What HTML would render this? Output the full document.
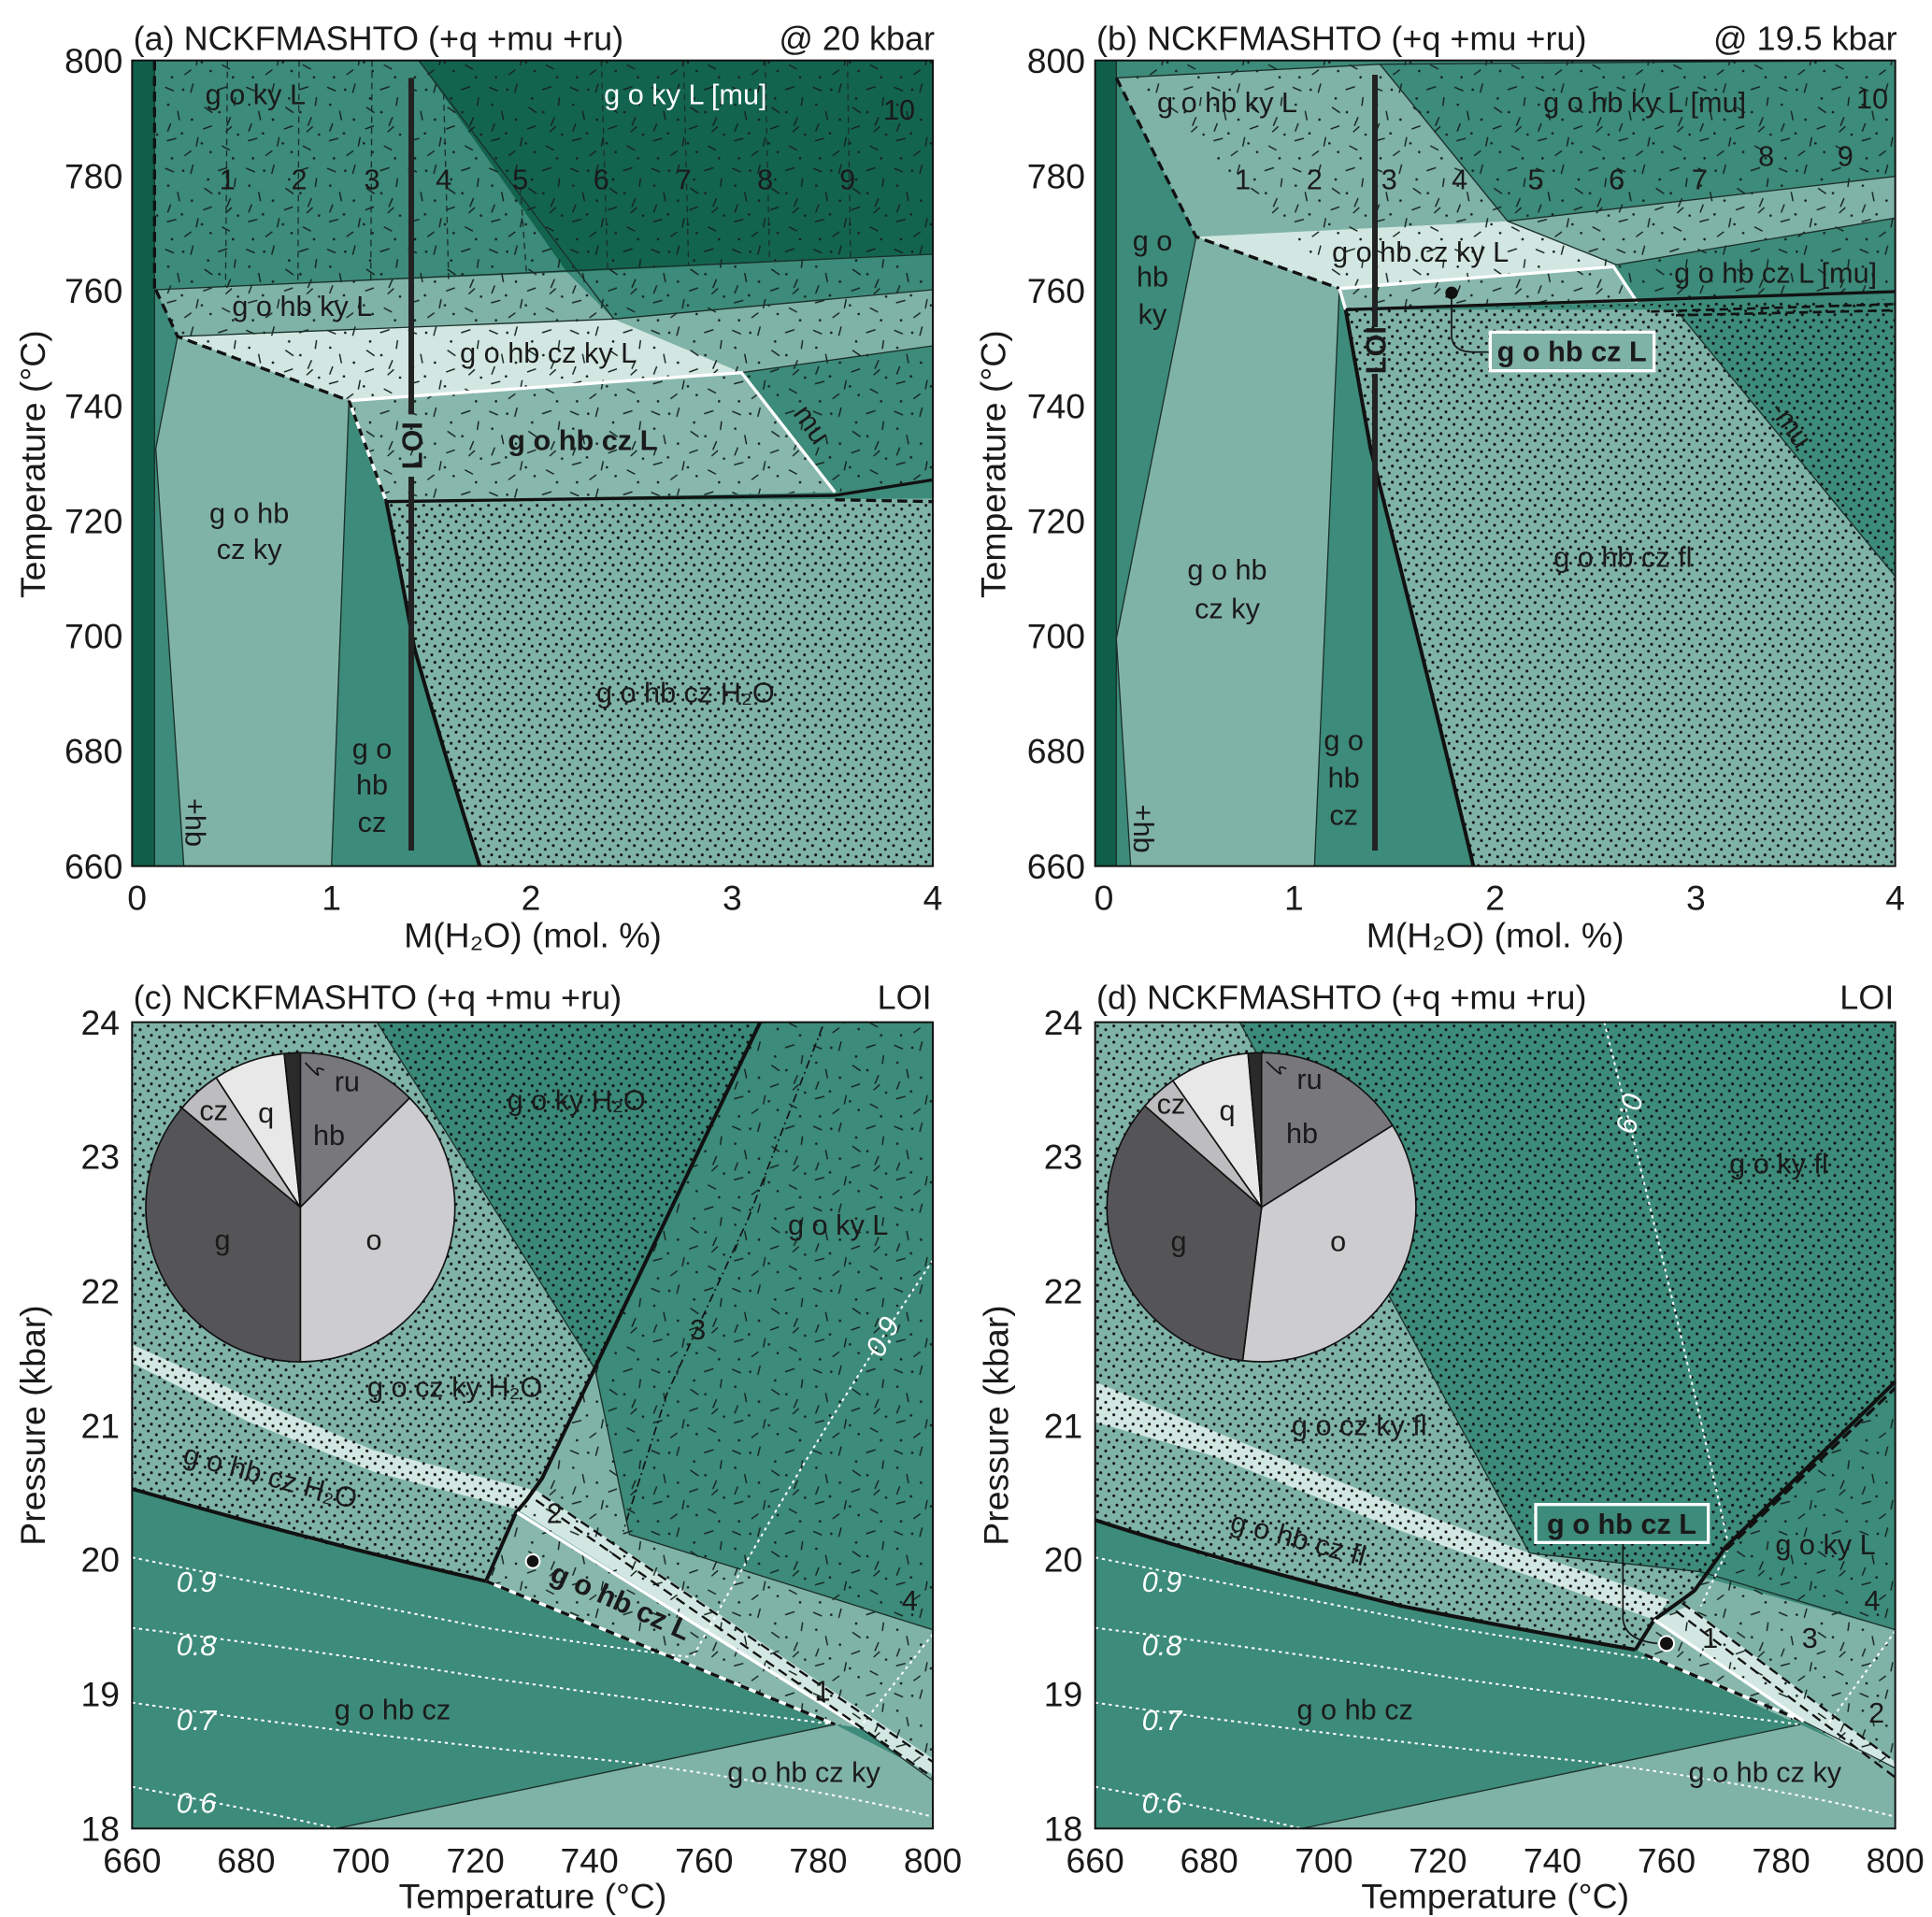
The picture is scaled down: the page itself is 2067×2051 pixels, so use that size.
<!DOCTYPE html>
<html><head><meta charset="utf-8"><style>html,body{margin:0;padding:0;background:#fff}svg{display:block}text{font-family:"Liberation Sans",sans-serif;fill:#1a1a1a}</style></head><body>
<svg width="2067" height="2051" viewBox="0 0 2067 2051" xmlns="http://www.w3.org/2000/svg">
<defs>
<pattern id="dsh" width="130" height="130" patternUnits="userSpaceOnUse">
<g stroke="#15231f" stroke-width="2.2" fill="none">
<path d="M5 10l14 6M50 4l-4 15M90 14l15-5M25 48l3 15M68 42l13 9M110 58l-6 14M8 96l15-4M58 90l-3 15M96 104l13 7M36 120l11-8M118 26l-2 14M80 72l-14 5M14 68l-5 13M102 82l10 -9"/>
</g>
<g fill="#15231f"><circle cx="34" cy="14" r="2"/><circle cx="74" cy="28" r="2"/><circle cx="10" cy="38" r="2"/><circle cx="48" cy="62" r="2"/><circle cx="92" cy="50" r="2"/><circle cx="122" cy="86" r="2"/><circle cx="32" cy="84" r="2"/><circle cx="78" cy="114" r="2"/><circle cx="114" cy="124" r="2"/><circle cx="16" cy="124" r="2"/><circle cx="64" cy="100" r="2"/></g>
</pattern>
<pattern id="dot" width="26" height="26" patternUnits="userSpaceOnUse">
<g fill="#111"><circle cx="4" cy="5" r="2.3"/><circle cx="17" cy="11" r="2.3"/><circle cx="9" cy="20" r="2.3"/><circle cx="22" cy="23" r="2.3"/></g>
</pattern>
</defs>

<!-- ================= PANEL A ================= -->
<g transform="scale(0.66667)">
<rect x="212" y="97" width="1285" height="1293" fill="#3d8b7a"/>
<rect x="212" y="97" width="36" height="1293" fill="#0f5f4b"/>
<polygon points="672,97 1497,97 1497,408 910,437" fill="#13644f"/>
<polygon points="985,512 1497,465 1497,555 1190,598" fill="#80b3a8"/>
<polygon points="250,465 910,437 985,512 285,540" fill="#80b3a8"/>
<polygon points="285,540 985,512 1190,598 560,643" fill="#d2e7e1"/>
<polygon points="560,643 1190,598 1340,790 620,805" fill="#88b8ad"/>
<polygon points="620,805 1497,800 1497,1390 770,1390 700,1150 665,1040" fill="#80b3a8"/>
<polygon points="285,540 560,643 532,1390 295,1390 250,720" fill="#80b3a8"/>
<polygon points="248,97 1497,97 1497,770 1340,790 620,805 560,643 285,540 250,465" fill="url(#dsh)"/>
<polygon points="620,805 1497,805 1497,1390 770,1390 700,1150 665,1040" fill="url(#dot)"/>
<g stroke="#1a2f2a" stroke-width="2" fill="none">
<path d="M672,97 L985,512"/><path d="M250,465 L1497,408"/><path d="M985,512 L1497,465"/><path d="M1190,598 L1497,555"/><path d="M285,540 L985,512"/>
<path d="M285,540 L250,720 L295,1390"/><path d="M560,643 L532,1390"/><path d="M248,97 L248,1390"/>
</g>
<g stroke="#1a2f2a" stroke-width="2" stroke-dasharray="10,8" fill="none">
<path d="M365,97 L362,460"/><path d="M480,97 L478,455"/><path d="M597,97 L595,450"/><path d="M712,150 L720,450"/><path d="M835,300 L845,440"/><path d="M965,97 L975,430"/><path d="M1097,97 L1105,425"/><path d="M1228,97 L1235,420"/><path d="M1360,97 L1365,415"/>
</g>
<path d="M248,97 L248,465" stroke="#111" stroke-width="5" stroke-dasharray="16,9" fill="none"/>
<path d="M250,465 L285,540 L560,643" stroke="#111" stroke-width="5" stroke-dasharray="16,9" fill="none"/>
<path d="M560,643 L1190,598 L1340,790" stroke="#fff" stroke-width="5" fill="none"/>
<path d="M560,643 L620,805" stroke="#fff" stroke-width="5" fill="none"/>
<path d="M560,643 L620,805" stroke="#111" stroke-width="5" stroke-dasharray="12,12" fill="none"/>
<path d="M620,805 L1340,795 L1497,770" stroke="#111" stroke-width="5" fill="none"/>
<path d="M1340,802 L1497,805" stroke="#111" stroke-width="5" stroke-dasharray="16,9" fill="none"/>
<path d="M620,805 Q645,930 665,1040 Q710,1200 770,1390" stroke="#111" stroke-width="6" fill="none"/>
<path d="M660,125 L660,665 M660,765 L660,1365" stroke="#222" stroke-width="9" fill="none"/>
<text transform="translate(677,715) rotate(-90)" text-anchor="middle" font-size="46" font-weight="bold">LOI</text>
<g font-size="46">
<text x="410" y="167" text-anchor="middle">g o ky L</text>
<text x="1100" y="167" text-anchor="middle" style="fill:#fff">g o ky L [mu]</text>
<text x="365" y="304" text-anchor="middle">1</text><text x="480" y="304" text-anchor="middle">2</text><text x="597" y="304" text-anchor="middle">3</text><text x="712" y="304" text-anchor="middle">4</text><text x="835" y="304" text-anchor="middle">5</text><text x="965" y="304" text-anchor="middle">6</text><text x="1097" y="304" text-anchor="middle">7</text><text x="1228" y="304" text-anchor="middle">8</text><text x="1360" y="304" text-anchor="middle">9</text><text x="1443" y="192" text-anchor="middle">10</text>
<text x="485" y="507" text-anchor="middle">g o hb ky L</text>
<text x="880" y="582" text-anchor="middle">g o hb cz ky L</text>
<text x="935" y="722" text-anchor="middle" font-weight="bold">g o hb cz L</text>
<text transform="translate(1290,690) rotate(55)" text-anchor="middle">mu</text>
<text x="400" y="839" text-anchor="middle">g o hb</text><text x="400" y="897" text-anchor="middle">cz ky</text>
<text x="597" y="1217" text-anchor="middle">g o</text><text x="597" y="1275" text-anchor="middle">hb</text><text x="597" y="1335" text-anchor="middle">cz</text>
<text x="1100" y="1127" text-anchor="middle">g o hb cz H₂O</text>
<text transform="translate(298,1320) rotate(90)" text-anchor="middle">+hb</text>
</g>
<rect x="212" y="97" width="1285" height="1293" fill="none" stroke="#111" stroke-width="3"/>
<g font-size="56" text-anchor="end">
<text x="197" y="117">800</text><text x="197" y="302">780</text><text x="197" y="486">760</text><text x="197" y="671">740</text><text x="197" y="856">720</text><text x="197" y="1040">700</text><text x="197" y="1225">680</text><text x="197" y="1410">660</text>
</g>
<g font-size="56" text-anchor="middle">
<text x="220" y="1460">0</text><text x="532" y="1460">1</text><text x="852" y="1460">2</text><text x="1175" y="1460">3</text><text x="1497" y="1460">4</text>
<text x="855" y="1520">M(H₂O) (mol. %)</text>
<text transform="translate(72,745) rotate(-90)">Temperature (°C)</text>
</g>
<text x="214" y="80" font-size="54">(a) NCKFMASHTO (+q +mu +ru)</text>
<text x="1500" y="80" font-size="54" text-anchor="end">@ 20 kbar</text>
</g>

<!-- ================= PANEL B ================= -->
<g transform="translate(1033,0) scale(0.66667)">
<rect x="208" y="97" width="1284" height="1293" fill="#3d8b7a"/>
<rect x="208" y="97" width="34" height="1293" fill="#0f5f4b"/>
<polygon points="242,125 665,103 870,355 370,380" fill="#80b3a8"/>
<polygon points="870,355 1492,283 1492,350 1045,425" fill="#80b3a8"/>
<polygon points="370,380 870,355 1045,425 600,463" fill="#d2e7e1"/>
<polygon points="600,463 1040,428 1078,485 610,497" fill="#88b8ad"/>
<polygon points="610,497 1140,497 1492,925 1492,1390 815,1390 720,1000 650,720" fill="#80b3a8"/>
<polygon points="370,380 600,463 560,1390 265,1390 242,1025" fill="#80b3a8"/>
<polygon points="242,97 1492,97 1492,470 610,497 600,463" fill="url(#dsh)"/>
<polygon points="610,497 1492,480 1492,1390 815,1390 720,1000 650,720" fill="url(#dot)"/>
<g stroke="#1a2f2a" stroke-width="2" fill="none">
<path d="M242,125 L665,103 L870,355 L1045,425"/><path d="M870,355 L1492,283"/><path d="M1045,425 L1492,350"/><path d="M665,103 L1492,97"/>
<path d="M1140,497 L1492,925"/><path d="M370,380 L242,1025 L265,1390"/><path d="M600,463 L560,1390"/><path d="M242,97 L242,1390"/>
</g>
<path d="M242,125 L370,380 L600,463" stroke="#111" stroke-width="5" stroke-dasharray="16,9" fill="none"/>
<path d="M600,463 L1040,428 L1078,485" stroke="#fff" stroke-width="5" fill="none"/>
<path d="M600,463 L610,497" stroke="#fff" stroke-width="5" fill="none"/>
<path d="M1100,500 L1492,488 M1140,506 L1492,498" stroke="#111" stroke-width="4" stroke-dasharray="14,8" fill="none"/>
<path d="M610,497 L1492,468" stroke="#111" stroke-width="5" fill="none"/>
<path d="M610,497 Q630,610 650,720 Q690,880 720,1000 Q770,1200 815,1390" stroke="#111" stroke-width="6" fill="none"/>
<path d="M657,120 L657,525 M657,600 L657,1365" stroke="#222" stroke-width="9" fill="none"/>
<text transform="translate(674,562) rotate(-90)" text-anchor="middle" font-size="46" font-weight="bold">LOI</text>
<circle cx="780" cy="470" r="10" fill="#111"/>
<path d="M780,470 L780,540 Q782,565 815,565 L842,565" stroke="#111" stroke-width="2.5" fill="none"/>
<rect x="842" y="533" width="263" height="62" fill="#80b3a8" stroke="#fff" stroke-width="5"/>
<text x="973" y="580" text-anchor="middle" font-size="46" font-weight="bold">g o hb cz L</text>
<g font-size="46">
<text x="420" y="180" text-anchor="middle">g o hb ky L</text>
<text x="1090" y="180" text-anchor="middle">g o hb ky L [mu]</text>
<text x="445" y="304" text-anchor="middle">1</text><text x="560" y="304" text-anchor="middle">2</text><text x="680" y="304" text-anchor="middle">3</text><text x="793" y="304" text-anchor="middle">4</text><text x="915" y="304" text-anchor="middle">5</text><text x="1045" y="304" text-anchor="middle">6</text><text x="1178" y="304" text-anchor="middle">7</text><text x="1285" y="266" text-anchor="middle">8</text><text x="1412" y="266" text-anchor="middle">9</text><text x="1455" y="174" text-anchor="middle">10</text>
<text x="730" y="420" text-anchor="middle">g o hb cz ky L</text>
<text x="1300" y="454" text-anchor="middle">g o hb cz L [mu]</text>
<text x="300" y="402" text-anchor="middle">g o</text><text x="300" y="460" text-anchor="middle">hb</text><text x="300" y="520" text-anchor="middle">ky</text>
<text x="420" y="930" text-anchor="middle">g o hb</text><text x="420" y="992" text-anchor="middle">cz ky</text>
<text x="607" y="1204" text-anchor="middle">g o</text><text x="607" y="1264" text-anchor="middle">hb</text><text x="607" y="1324" text-anchor="middle">cz</text>
<text x="1055" y="910" text-anchor="middle">g o hb cz fl</text>
<text transform="translate(1312,690) rotate(55)" text-anchor="middle">-mu</text>
<text transform="translate(270,1330) rotate(90)" text-anchor="middle">+hb</text>
</g>
<rect x="208" y="97" width="1284" height="1293" fill="none" stroke="#111" stroke-width="3"/>
<g font-size="56" text-anchor="end">
<text x="192" y="117">800</text><text x="192" y="302">780</text><text x="192" y="486">760</text><text x="192" y="671">740</text><text x="192" y="856">720</text><text x="192" y="1040">700</text><text x="192" y="1225">680</text><text x="192" y="1410">660</text>
</g>
<g font-size="56" text-anchor="middle">
<text x="222" y="1460">0</text><text x="527" y="1460">1</text><text x="850" y="1460">2</text><text x="1172" y="1460">3</text><text x="1492" y="1460">4</text>
<text x="850" y="1520">M(H₂O) (mol. %)</text>
<text transform="translate(64,745) rotate(-90)">Temperature (°C)</text>
</g>
<text x="210" y="80" font-size="54">(b) NCKFMASHTO (+q +mu +ru)</text>
<text x="1495" y="80" font-size="54" text-anchor="end">@ 19.5 kbar</text>
</g>

<!-- ================= PANEL C ================= -->
<g transform="translate(0,1025) scale(0.66667)">
<rect x="212" y="103" width="1285" height="1294" fill="#3d8b7a"/>
<polygon points="212,103 605,103 955,660 862,855 600,790 400,705 212,620" fill="#80b3a8"/>
<polygon points="212,620 400,705 600,790 862,855 830,885 600,825 400,745 212,650" fill="#d2e7e1"/>
<polygon points="212,650 400,745 600,825 830,885 780,1000 500,935 212,852" fill="#80b3a8"/>
<polygon points="605,103 1220,103 955,660" fill="#3a8878"/>
<polygon points="955,660 1010,925 1497,1078 1497,1320 862,855" fill="#80b3a8"/>
<polygon points="830,885 862,855 1497,1285 1497,1320 1380,1235" fill="#d2e7e1"/>
<polygon points="830,885 1380,1235 1340,1230 780,1000" fill="#88b8ad"/>
<polygon points="540,1397 1340,1230 1497,1310 1497,1397" fill="#80b3a8"/>
<polygon points="212,103 1220,103 870,835 845,870 828,890 780,1000 500,935 212,852" fill="url(#dot)"/>
<polygon points="1220,103 1497,103 1497,1320 1380,1235 1340,1230 780,1000 828,890 845,870 870,835" fill="url(#dsh)"/>
<g stroke="#1a2f2a" stroke-width="2" fill="none">
<path d="M605,103 L955,660 L1010,925 L1497,1078"/><path d="M540,1397 L1340,1230"/><path d="M1380,1235 L1497,1320"/>
</g>
<path d="M1320,110 L1200,420 L1070,700 L1000,920" stroke="#111" stroke-width="2.5" stroke-dasharray="14,6,3,6" fill="none"/>
<g stroke="#fff" stroke-width="3" stroke-dasharray="5,6" fill="none">
<path d="M212,962 Q500,1020 780,1075 Q1000,1110 1110,1122"/>
<path d="M212,1075 Q500,1110 780,1155 Q1100,1200 1340,1230"/>
<path d="M212,1195 Q600,1250 1000,1290 Q1300,1330 1497,1378"/>
<path d="M212,1330 Q400,1365 540,1397"/>
<path d="M1497,485 Q1300,780 1110,1125"/>
<path d="M1497,1085 L1380,1235"/>
</g>
<path d="M212,852 Q500,935 780,1000" stroke="#111" stroke-width="6" fill="none"/>
<path d="M780,1000 L828,890 L845,870 L870,835 L1220,103" stroke="#111" stroke-width="6" fill="none"/>
<path d="M780,1000 L1340,1230" stroke="#fff" stroke-width="5" fill="none"/>
<path d="M780,1000 L1340,1230" stroke="#111" stroke-width="5" stroke-dasharray="14,12" fill="none"/>
<path d="M830,890 L1380,1235" stroke="#fff" stroke-width="5" fill="none"/>
<path d="M870,862 L1497,1290 M860,870 L1497,1315" stroke="#111" stroke-width="3.5" stroke-dasharray="16,9" fill="none"/>
<circle cx="855" cy="968" r="11" fill="#111" stroke="#fff" stroke-width="3"/>
<g font-size="46">
<text x="925" y="244" text-anchor="middle">g o ky H₂O</text>
<text x="1345" y="444" text-anchor="middle">g o ky L</text>
<text x="1120" y="612" text-anchor="middle">3</text>
<text x="730" y="704" text-anchor="middle">g o cz ky H₂O</text>
<text transform="translate(430,847) rotate(15)" text-anchor="middle">g o hb cz H₂O</text>
<text x="890" y="907" text-anchor="middle">2</text>
<text transform="translate(990,1047) rotate(24)" text-anchor="middle" font-weight="bold">g o hb cz L</text>
<text x="1460" y="1047" text-anchor="middle">4</text>
<text x="1320" y="1192" text-anchor="middle">1</text>
<text x="630" y="1222" text-anchor="middle">g o hb cz</text>
<text x="1290" y="1322" text-anchor="middle">g o hb cz ky</text>
<text x="315" y="1017" text-anchor="middle" font-style="italic" style="fill:#fff">0.9</text>
<text x="315" y="1119" text-anchor="middle" font-style="italic" style="fill:#fff">0.8</text>
<text x="315" y="1239" text-anchor="middle" font-style="italic" style="fill:#fff">0.7</text>
<text x="315" y="1372" text-anchor="middle" font-style="italic" style="fill:#fff">0.6</text>
<text transform="translate(1430,615) rotate(-62)" text-anchor="middle" font-style="italic" style="fill:#fff">0.9</text>
</g>
<g stroke="#111" stroke-width="2.5">
<path d="M482,400 L482,152 A248,248 0 0 1 657.4,224.6 Z" fill="#78777c"/>
<path d="M482,400 L657.4,224.6 A248,248 0 0 1 482,648 Z" fill="#cdcdcf"/>
<path d="M482,400 L482,648 A248,248 0 0 1 292,240.6 Z" fill="#555557"/>
<path d="M482,400 L292,240.6 A248,248 0 0 1 346.9,192 Z" fill="#bdbdbf"/>
<path d="M482,400 L346.9,192 A248,248 0 0 1 456.1,153.4 Z" fill="#e8e8e8"/>
<path d="M482,400 L456.1,153.4 A248,248 0 0 1 482,152 Z" fill="#2a2a2a"/>
</g>
<path d="M520,180 Q505,172 510,185 Q515,195 490,168" stroke="#111" stroke-width="2.5" fill="none"/>
<g font-size="46" text-anchor="middle">
<text x="557" y="214">ru</text><text x="528" y="300">hb</text><text x="600" y="468">o</text><text x="357" y="468">g</text><text x="343" y="260">cz</text><text x="427" y="264">q</text>
</g>
<rect x="212" y="103" width="1285" height="1294" fill="none" stroke="#111" stroke-width="3"/>
<g font-size="56" text-anchor="end">
<text x="192" y="123">24</text><text x="192" y="338">23</text><text x="192" y="554">22</text><text x="192" y="770">21</text><text x="192" y="985">20</text><text x="192" y="1201">19</text><text x="192" y="1417">18</text>
</g>
<g font-size="56" text-anchor="middle">
<text x="212" y="1468">660</text><text x="395" y="1468">680</text><text x="579" y="1468">700</text><text x="763" y="1468">720</text><text x="946" y="1468">740</text><text x="1130" y="1468">760</text><text x="1313" y="1468">780</text><text x="1497" y="1468">800</text>
<text x="855" y="1525">Temperature (°C)</text>
<text transform="translate(72,750) rotate(-90)">Pressure (kbar)</text>
</g>
<text x="214" y="82" font-size="54">(c) NCKFMASHTO (+q +mu +ru)</text>
<text x="1495" y="82" font-size="54" text-anchor="end">LOI</text>
</g>

<!-- ================= PANEL D ================= -->
<g transform="translate(1033,1025) scale(0.66667)">
<rect x="208" y="103" width="1284" height="1294" fill="#3d8b7a"/>
<polygon points="208,103 440,103 905,955 700,880 400,760 208,680" fill="#80b3a8"/>
<polygon points="208,680 400,760 700,880 905,955 1130,1030 1105,1062 700,920 400,800 208,745" fill="#d2e7e1"/>
<polygon points="208,745 400,800 700,920 1105,1062 1075,1110 700,1040 400,965 208,902" fill="#80b3a8"/>
<polygon points="905,955 1180,985 1130,1030" fill="#80b3a8"/>
<polygon points="1170,990 1492,1078 1492,1295 1345,1225 1105,1062 1130,1030" fill="#80b3a8"/>
<polygon points="1105,1062 1160,1040 1492,1290 1492,1310 1345,1225" fill="#d2e7e1"/>
<polygon points="1075,1110 1105,1062 1345,1225 1320,1222" fill="#88b8ad"/>
<polygon points="540,1397 1340,1230 1492,1300 1492,1397" fill="#80b3a8"/>
<polygon points="208,103 1492,103 1492,680 1220,945 1170,1015 1150,1030 1105,1062 1075,1110 700,1040 400,965 208,902" fill="url(#dot)"/>
<polygon points="1220,945 1492,680 1492,1310 1345,1225 1320,1222 1075,1110 1105,1062 1150,1030 1170,1015" fill="url(#dsh)"/>
<g stroke="#1a2f2a" stroke-width="2" fill="none">
<path d="M440,103 L905,955 L1180,985 L1492,1078"/><path d="M540,1397 L1340,1230"/><path d="M1345,1225 L1492,1300"/>
</g>
<g stroke="#fff" stroke-width="3" stroke-dasharray="5,6" fill="none">
<path d="M1025,103 Q1150,600 1225,945 L1180,1040"/>
<path d="M208,962 Q500,1020 780,1075 Q1000,1110 1100,1125"/>
<path d="M208,1075 Q500,1110 780,1155 Q1100,1200 1340,1230"/>
<path d="M208,1195 Q600,1250 1000,1290 Q1300,1330 1492,1378"/>
<path d="M208,1330 Q400,1365 540,1397"/>
<path d="M1492,1080 L1380,1235"/>
</g>
<path d="M208,902 Q400,965 700,1040 Q900,1080 1075,1110" stroke="#111" stroke-width="6" fill="none"/>
<path d="M1075,1110 L1105,1062 L1150,1030 L1170,1015 L1220,945 L1492,680" stroke="#111" stroke-width="6" fill="none"/>
<path d="M1220,950 L1492,690" stroke="#111" stroke-width="5" stroke-dasharray="18,8" fill="none"/>
<path d="M1090,1118 L1345,1225" stroke="#fff" stroke-width="5" fill="none"/>
<path d="M1090,1118 L1345,1225" stroke="#111" stroke-width="5" stroke-dasharray="14,12" fill="none"/>
<path d="M1105,1062 L1345,1225" stroke="#fff" stroke-width="5" fill="none"/>
<path d="M1150,1035 L1492,1290 M1140,1048 L1492,1315" stroke="#111" stroke-width="3.5" stroke-dasharray="16,9" fill="none"/>
<path d="M1055,940 L1055,1060 Q1058,1095 1110,1100" stroke="#111" stroke-width="2.5" fill="none"/>
<circle cx="1125" cy="1100" r="12" fill="#111" stroke="#fff" stroke-width="3"/>
<rect x="915" y="877" width="277" height="61" fill="#3d8b7a" stroke="#fff" stroke-width="5"/>
<text x="1053" y="924" text-anchor="middle" font-size="46" font-weight="bold">g o hb cz L</text>
<g font-size="46">
<text x="1305" y="346" text-anchor="middle">g o ky fl</text>
<text x="632" y="766" text-anchor="middle">g o cz ky fl</text>
<text transform="translate(530,947) rotate(15)" text-anchor="middle">g o hb cz fl</text>
<text x="1380" y="957" text-anchor="middle">g o ky L</text>
<text x="1455" y="1047" text-anchor="middle">4</text><text x="1355" y="1107" text-anchor="middle">3</text><text x="1195" y="1107" text-anchor="middle">1</text><text x="1462" y="1227" text-anchor="middle">2</text>
<text x="625" y="1222" text-anchor="middle">g o hb cz</text>
<text x="1283" y="1322" text-anchor="middle">g o hb cz ky</text>
<text x="315" y="1017" text-anchor="middle" font-style="italic" style="fill:#fff">0.9</text>
<text x="315" y="1119" text-anchor="middle" font-style="italic" style="fill:#fff">0.8</text>
<text x="315" y="1239" text-anchor="middle" font-style="italic" style="fill:#fff">0.7</text>
<text x="315" y="1372" text-anchor="middle" font-style="italic" style="fill:#fff">0.6</text>
<text transform="translate(1050,245) rotate(102)" text-anchor="middle" font-style="italic" style="fill:#fff">0.9</text>
</g>
<g stroke="#111" stroke-width="2.5">
<path d="M475,400 L475,152 A248,248 0 0 1 685.3,268.6 Z" fill="#78777c"/>
<path d="M475,400 L685.3,268.6 A248,248 0 0 1 444.8,646.1 Z" fill="#cdcdcf"/>
<path d="M475,400 L444.8,646.1 A248,248 0 0 1 287.8,237.3 Z" fill="#555557"/>
<path d="M475,400 L287.8,237.3 A248,248 0 0 1 332.7,196.8 Z" fill="#bdbdbf"/>
<path d="M475,400 L332.7,196.8 A248,248 0 0 1 453.4,152.9 Z" fill="#e8e8e8"/>
<path d="M475,400 L453.4,152.9 A248,248 0 0 1 475,152 Z" fill="#2a2a2a"/>
</g>
<path d="M515,178 Q500,170 505,183 Q510,193 483,166" stroke="#111" stroke-width="2.5" fill="none"/>
<g font-size="46" text-anchor="middle">
<text x="552" y="210">ru</text><text x="540" y="297">hb</text><text x="598" y="470">o</text><text x="342" y="470">g</text><text x="330" y="250">cz</text><text x="420" y="260">q</text>
</g>
<rect x="208" y="103" width="1284" height="1294" fill="none" stroke="#111" stroke-width="3"/>
<g font-size="56" text-anchor="end">
<text x="188" y="123">24</text><text x="188" y="338">23</text><text x="188" y="554">22</text><text x="188" y="770">21</text><text x="188" y="985">20</text><text x="188" y="1201">19</text><text x="188" y="1417">18</text>
</g>
<g font-size="56" text-anchor="middle">
<text x="208" y="1468">660</text><text x="391" y="1468">680</text><text x="575" y="1468">700</text><text x="758" y="1468">720</text><text x="942" y="1468">740</text><text x="1125" y="1468">760</text><text x="1309" y="1468">780</text><text x="1492" y="1468">800</text>
<text x="850" y="1525">Temperature (°C)</text>
<text transform="translate(68,750) rotate(-90)">Pressure (kbar)</text>
</g>
<text x="210" y="82" font-size="54">(d) NCKFMASHTO (+q +mu +ru)</text>
<text x="1490" y="82" font-size="54" text-anchor="end">LOI</text>
</g>
</svg>
</body></html>
